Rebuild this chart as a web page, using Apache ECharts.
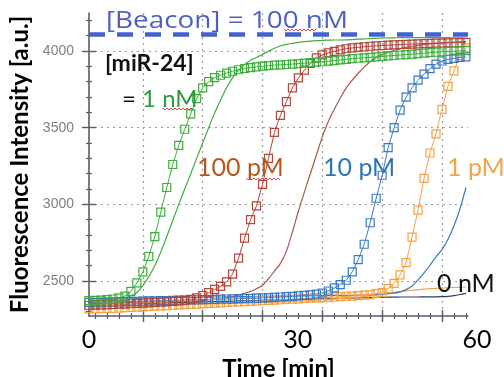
<!DOCTYPE html>
<html>
<head>
<meta charset="utf-8">
<script src="https://cdn.jsdelivr.net/npm/echarts@6/dist/echarts.min.js"></script>
<style>
html,body{margin:0;padding:0;background:#fff;}
#chart{width:504px;height:377px;}
</style>
</head>
<body>
<div id="chart"></div>
<script>
// ---- data (time in minutes, fluorescence in a.u.) ----
const minutes = [1,2,3,4,5,6,7,8,9,10,11,12,13,14,15,16,17,18,19,20,21,22,23,24,25,26,27,28,29,30,31,32,33,34,35,36,37,38,39,40,41,42,43,44,45,46,47,48,49,50,51,52,53,54,55,56,57,58,59,60,61,62,63,64];

// measured (square markers)
const meas1nM = [2372,2374,2376,2379,2383,2390,2402,2432,2488,2560,
  2660,2790,2950,3110,3260,3385,3490,3590,3690,3760,
  3800,3826,3842,3856,3868,3878,3886,3892,3897,3901,
  3905,3908,3910,3912,3915,3918,3921,3924,3927,3930,
  3934,3938,3942,3946,3950,3953,3956,3959,3962,3965,
  3968,3971,3974,3977,3980,3983,3986,3989,3992,3995,
  3997,3999,4001,4003];
const meas100pM = [2342,2343,2344,2345,2347,2349,2350,2352,2354,2356,
  2358,2360,2362,2364,2367,2370,2374,2380,2390,2405,
  2425,2445,2465,2494,2545,2650,2780,2900,2990,3130,
  3300,3470,3580,3670,3760,3825,3875,3920,3955,3975,
  3988,3998,4008,4015,4020,4024,4028,4031,4034,4036,
  4038,4040,4042,4044,4045,4047,4048,4050,4051,4052,
  4053,4054,4055,4056];
const meas10pM = [2360,2361,2362,2363,2364,2365,2366,2367,2368,2369,
  2370,2371,2372,2373,2374,2375,2376,2377,2378,2379,
  2380,2381,2382,2383,2384,2385,2386,2387,2388,2390,
  2392,2394,2396,2398,2400,2403,2406,2410,2415,2422,
  2435,2455,2477,2505,2560,2640,2740,2880,3040,3190,
  3370,3500,3615,3700,3760,3810,3850,3885,3915,3935,
  3945,3952,3958,3962];
const meas1pM = [2318,2319,2320,2321,2322,2324,2326,2328,2330,2332,
  2334,2336,2338,2340,2342,2344,2346,2348,2350,2352,
  2354,2356,2358,2360,2362,2364,2366,2368,2370,2372,
  2374,2376,2378,2380,2382,2384,2386,2388,2390,2392,
  2394,2396,2398,2400,2402,2405,2408,2412,2418,2426,
  2450,2485,2540,2620,2787,2963,3170,3335,3460,3620,
  3770,3870,3970,4020];

// thin curves
const curve1nM = [2374,2375,2377,2379,2382,2386,2392,2402,2425,2470,
  2530,2600,2690,2790,2895,3000,3100,3200,3300,3400,
  3500,3595,3680,3760,3825,3875,3912,3940,3958,3978,
  3998,4018,4033,4043,4050,4056,4061,4065,4068,4070,
  4071,4072,4072,4073,4075,4077,4079,4081,4083,4085,
  4086,4086,4087,4087,4088,4088,4088,4088,4088,4087,
  4087,4086,4086,4085];
const curve100pM = [2352,2353,2354,2355,2356,2357,2358,2359,2360,2361,
  2362,2363,2364,2365,2366,2367,2368,2370,2372,2374,
  2377,2380,2384,2390,2398,2408,2420,2432,2450,2472,
  2515,2565,2615,2695,2820,2955,3080,3200,3320,3440,
  3540,3620,3694,3760,3810,3855,3895,3930,3958,3978,
  3992,4005,4015,4024,4031,4037,4042,4046,4050,4053,
  4056,4058,4060,4061];
const curve10pM = [2385,2386,2386,2387,2387,2388,2388,2389,2389,2390,
  2390,2391,2391,2392,2392,2393,2393,2394,2394,2395,
  2395,2396,2396,2397,2397,2398,2398,2399,2399,2400,
  2400,2401,2401,2402,2402,2403,2403,2404,2404,2405,
  2405,2406,2406,2407,2407,2408,2409,2410,2412,2414,
  2417,2421,2429,2444,2468,2508,2553,2603,2658,2705,
  2772,2860,2970,3110];
const curve1pM = [2330,2331,2332,2333,2334,2335,2336,2337,2338,2339,
  2340,2341,2342,2343,2344,2345,2346,2347,2348,2349,
  2350,2351,2352,2353,2354,2355,2356,2357,2358,2359,
  2360,2362,2364,2366,2368,2370,2372,2374,2376,2378,
  2380,2383,2386,2389,2392,2395,2399,2403,2408,2414,
  2420,2426,2431,2436,2440,2444,2447,2450,2452,2454,
  2456,2458,2459,2461];
const curve0nM = [2345,2346,2347,2348,2349,2350,2351,2352,2353,2354,
  2355,2356,2357,2358,2359,2360,2361,2362,2363,2364,
  2365,2366,2367,2368,2369,2370,2371,2372,2373,2374,
  2375,2376,2377,2378,2379,2380,2381,2382,2383,2384,
  2385,2386,2387,2388,2389,2390,2391,2392,2393,2394,
  2395,2395,2396,2396,2396,2396,2397,2397,2397,2398,
  2400,2405,2412,2420];

const beaconLevel = 4110;

// axis ticks / labels
const yMajorTicks = [2500,3000,3500,4000];
const yMinorTicks = [2300,2400,2600,2700,2800,2900,3100,3200,3300,3400,3600,3700,3800,3900,4100,4200];
const xMajorTicks = [10,20,30,40,50,60];
const xMinorTicks = [2,4,6,8,12,14,16,18,22,24,26,28,32,34,36,38,42,44,46,48,52,54,56,58,62,64];
const xTickLabels = ['0','30','60'];
const xTickLabelAt = [1,35.9,64.35];

const xMin = 1, xMax = 64.35, yMin = 2272, yMax = 4248;

const C = {green:'#3fae3f', red:'#b0483e', blue:'#3a79c2', orange:'#f5a244', dark:'#2f3e5e'};

function pairs(arr){ return minutes.map((t,i)=>[t,arr[i]]); }

function measSeries(name, arr, color){
  return {name, type:'line', data:pairs(arr), symbol:'rect', symbolSize:8, showSymbol:true,
    lineStyle:{color, width:1}, itemStyle:{color:'rgba(255,255,255,0)', borderColor:color, borderWidth:1.2},
    emphasis:{disabled:true}, z:3, silent:true};
}
function curveSeries(name, arr, color, extra){
  return Object.assign({name, type:'line', data:pairs(arr), symbol:'none', showSymbol:false, smooth:0.3,
    lineStyle:{color, width:1.2}, emphasis:{disabled:true}, z:2, silent:true}, extra||{});
}

const axisColor = '#565e6a';
const gridLine = {show:true, lineStyle:{color:'#9a9a9a', width:1.2, type:[2,4]}};
const squiggle = (x0, x1, y) => {
  const pts = []; let up = true;
  for (let x = x0; x <= x1; x += 2) { pts.push([x, up ? y - 1 : y + 1]); up = !up; }
  return {type:'polyline', z:11, silent:true, shape:{points:pts}, style:{stroke:'#e0483c', lineWidth:1, fill:null}};
};

const chart = echarts.init(document.getElementById('chart'), null, {renderer:'canvas'});
chart.setOption({
  animation:false,
  backgroundColor:'#fff',
  grid:{left:89, right:36, top:13, bottom:61, containLabel:false, outerBoundsMode:'none'},
  xAxis:[
    {type:'value', min:xMin, max:xMax, position:'bottom',
     axisLine:{show:true, lineStyle:{color:axisColor, width:1.6}},
     axisTick:{show:false, customValues:xMajorTicks},
     axisLabel:{customValues:xTickLabelAt, margin:11, color:'#000', fontSize:25, fontFamily:'Lato',
       formatter:function(v){
         let best=0; xTickLabelAt.forEach((p,i)=>{ if(Math.abs(p-v)<Math.abs(xTickLabelAt[best]-v)) best=i; });
         return best===xTickLabels.length-1 ? '{r|'+xTickLabels[best]+'}' : xTickLabels[best];
       },
       rich:{r:{fontSize:25, fontFamily:'Lato', color:'#000', padding:[0,0,0,18]}}},
     splitLine:gridLine,
     name:'Time [min]', nameLocation:'middle', nameGap:35,
     nameTextStyle:{fontFamily:'Lato', fontWeight:'bold', fontSize:24, color:'#000'}},
    {type:'value', min:xMin, max:xMax, position:'bottom', offset:-6,
     axisLine:{show:false}, axisLabel:{show:false}, splitLine:{show:false},
     axisTick:{show:true, customValues:xMajorTicks, length:12, lineStyle:{color:axisColor, width:1.4}}},
    {type:'value', min:xMin, max:xMax, position:'bottom', offset:-3,
     axisLine:{show:false}, axisLabel:{show:false}, splitLine:{show:false},
     axisTick:{show:true, customValues:xMinorTicks, length:6, lineStyle:{color:axisColor, width:1.2}}}
  ],
  yAxis:[
    {type:'value', min:yMin, max:yMax, position:'left',
     axisLine:{show:true, lineStyle:{color:axisColor, width:1.6}},
     axisTick:{show:false, customValues:yMajorTicks},
     axisLabel:{customValues:yMajorTicks, margin:15, color:'#7f7f7f', fontSize:14, fontFamily:'Liberation Sans',
       formatter:function(v){ return String(Math.round(v)); }},
     splitLine:gridLine,
     name:'Fluorescence Intensity [a.u.]', nameLocation:'middle', nameGap:41,
     nameTextStyle:{fontFamily:'Lato', fontWeight:'bold', fontSize:24, color:'#000'}},
    {type:'value', min:yMin, max:yMax, position:'left', offset:-7,
     axisLine:{show:false}, axisLabel:{show:false}, splitLine:{show:false},
     axisTick:{show:true, customValues:yMajorTicks, length:14, lineStyle:{color:axisColor, width:1.4}}},
    {type:'value', min:yMin, max:yMax, position:'left', offset:-3,
     axisLine:{show:false}, axisLabel:{show:false}, splitLine:{show:false},
     axisTick:{show:true, customValues:yMinorTicks, length:6, lineStyle:{color:axisColor, width:1.2}}}
  ],
  series:[
    curveSeries('0 nM', curve0nM, C.dark, {markLine:{silent:true, symbol:'none', label:{show:false},
      lineStyle:{color:'#4361d2', width:4.5, type:[16,12]}, data:[{yAxis:beaconLevel}]}}),
    curveSeries('1 pM fit', curve1pM, C.orange),
    curveSeries('10 pM fit', curve10pM, C.blue),
    curveSeries('100 pM fit', curve100pM, '#a9574b'),
    curveSeries('1 nM fit', curve1nM, C.green),
    measSeries('1 pM', meas1pM, C.orange),
    measSeries('10 pM', meas10pM, C.blue),
    measSeries('100 pM', meas100pM, C.red),
    measSeries('1 nM', meas1nM, C.green)
  ],
  graphic:[
    {type:'text', z:10, x:106, y:21, scaleX:1.16, style:{text:'[Beacon] = 100 nM', x:0, y:0, align:'left', verticalAlign:'middle',
      font:'24px "Open Sans"', fill:'#4f5fc4'}},
    {type:'text', z:10, style:{text:'[miR-24]', x:105, y:64, align:'left', verticalAlign:'middle',
      font:'bold 23px Lato', fill:'#111'}},
    {type:'text', z:10, style:{text:'{k|=} {g|1 nM}', x:122, y:99, align:'left', verticalAlign:'middle',
      font:'24px Lato', rich:{k:{fill:'#111', font:'24px Lato'}, g:{fill:'#2e9a3e', font:'24px Lato'}}}},
    {type:'text', z:10, style:{text:'100 pM', x:197, y:168, align:'left', verticalAlign:'middle',
      font:'25px Lato', fill:'#b8561c'}},
    {type:'text', z:10, style:{text:'10 pM', x:323, y:168, align:'left', verticalAlign:'middle',
      font:'25px Lato', fill:'#2e75b6'}},
    {type:'text', z:10, style:{text:'1 pM', x:447, y:168, align:'left', verticalAlign:'middle',
      font:'25px Lato', fill:'#f3a54c'}},
    {type:'text', z:10, style:{text:'0 nM', x:437, y:284, align:'left', verticalAlign:'middle',
      font:'25px Lato', fill:'#111'}},
    squiggle(284, 316, 30),
    squiggle(163, 193, 109),
    squiggle(246, 280, 179)
  ]
});
</script>
</body>
</html>
